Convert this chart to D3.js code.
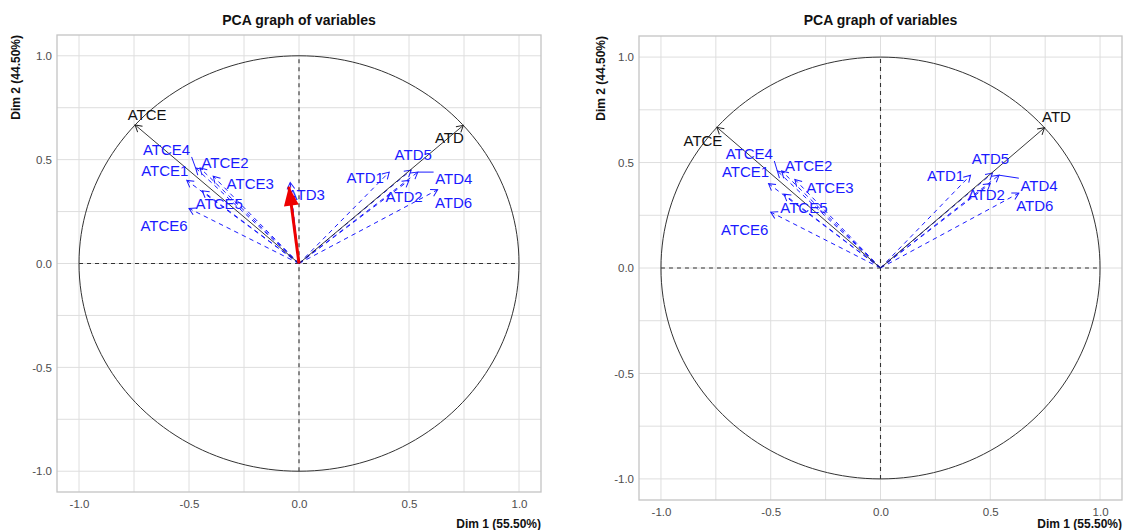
<!DOCTYPE html>
<html>
<head>
<meta charset="utf-8">
<script src="https://cdn.jsdelivr.net/npm/d3@7"></script>
<style>
  html, body { margin: 0; padding: 0; background: #ffffff; }
  svg { display: block; font-family: "Liberation Sans", Arial, sans-serif; }
</style>
</head>
<body>
<svg id="chart" width="1125" height="530"></svg>
<script>
// ---------------- data ----------------
const chartTitle = "PCA graph of variables";
const xTitle = "Dim 1 (55.50%)";
const yTitle = "Dim 2 (44.50%)";

const activeVars = ["ATCE", "ATD"];
const activeDim1 = [-0.745, 0.747];
const activeDim2 = [0.667, 0.665];

const supVars = ["ATCE1", "ATCE2", "ATCE3", "ATCE4", "ATCE5", "ATCE6",
                 "ATD1", "ATD2", "ATD3", "ATD4", "ATD5", "ATD6"];
const supDim1 = [-0.51, -0.45, -0.39, -0.47, -0.44, -0.50,
                  0.41, 0.50, -0.04, 0.54, 0.51, 0.63];
const supDim2 = [0.40, 0.46, 0.42, 0.46, 0.35, 0.265,
                 0.44, 0.40, 0.39, 0.44, 0.45, 0.355];

// highlight arrow (left panel only)
const highlightVar = "ATD3";
const highlightDim1 = [0, -0.046];
const highlightDim2 = [0, 0.37];

const tickValues = [-1, -0.5, 0, 0.5, 1];
const tickLabels = ["-1.0", "-0.5", "0.0", "0.5", "1.0"];
const gridValues = [-1, -0.75, -0.5, -0.25, 0, 0.25, 0.5, 0.75, 1];

// ---------------- layout ----------------
// label offsets (px) from arrow tip, per panel (text-repel placement)
const panels = [
  {
    box: { x0: 57, x1: 541, y0: 35, y1: 492 },
    showVars: supVars,
    highlight: true,
    yTitleX: 16,
    xTitleY: 528,
    labelOff: {
      ATCE: [12, -10], ATD: [-14, 12],
      ATCE1: [-22, -10], ATCE2: [25, -5], ATCE3: [37, 7], ATCE4: [-29, -18],
      ATCE5: [17, 13], ATCE6: [-25, 17],
      ATD1: [-24, 5], ATD2: [-5, 16], ATD3: [16, 12], ATD4: [36, 6],
      ATD5: [2, -15], ATD6: [16, 13]
    },
    segments: { ATCE4: true, ATD4: true }
  },
  {
    box: { x0: 639, x1: 1122, y0: 36, y1: 500 },
    showVars: supVars.filter(v => v !== "ATD3"),
    highlight: false,
    yTitleX: 601,
    xTitleY: 528,
    labelOff: {
      ATCE: [-14, 13], ATD: [12, -11],
      ATCE1: [-23, -12], ATCE2: [27, -5], ATCE3: [35, 8], ATCE4: [-28, -17],
      ATCE5: [20, 13], ATCE6: [-26, 17],
      ATD1: [-25, 0], ATD2: [-4, 11], ATD4: [40, 10],
      ATD5: [-2, -14], ATD6: [16, 12]
    },
    segments: { ATCE4: true, ATD4: true }
  }
];

const svg = d3.select("#chart");
const defs = svg.append("defs");

function addMarker(id, color) {
  defs.append("marker")
    .attr("id", id)
    .attr("markerUnits", "userSpaceOnUse")
    .attr("viewBox", "-10 -6 12 12")
    .attr("refX", 0).attr("refY", 0)
    .attr("markerWidth", 12).attr("markerHeight", 12)
    .attr("orient", "auto")
    .append("path")
    .attr("d", "M-6.5,-3.8 L0,0 L-6.5,3.8")
    .attr("fill", "none")
    .attr("stroke", color)
    .attr("stroke-width", 1);
}
addMarker("headBlack", "#222222");
addMarker("headBlue", "#1a1aff");

defs.append("marker")
  .attr("id", "headRed")
  .attr("markerUnits", "userSpaceOnUse")
  .attr("viewBox", "-20 -8 22 16")
  .attr("refX", 0).attr("refY", 0)
  .attr("markerWidth", 22).attr("markerHeight", 16)
  .attr("orient", "auto")
  .append("path")
  .attr("d", "M-19,-7.5 L0,0 L-19,7.5 Z")
  .attr("fill", "#ee0000");

const labelFont = 15;

panels.forEach(p => {
  const b = p.box;
  const x = d3.scaleLinear().domain([-1.1, 1.1]).range([b.x0, b.x1]);
  const y = d3.scaleLinear().domain([-1.1, 1.1]).range([b.y1, b.y0]);
  const g = svg.append("g");

  // grid
  g.selectAll(".gx").data(gridValues).join("line")
    .attr("x1", d => x(d)).attr("x2", d => x(d))
    .attr("y1", b.y0).attr("y2", b.y1)
    .attr("stroke", "#dedede").attr("stroke-width", 1);
  g.selectAll(".gy").data(gridValues).join("line")
    .attr("y1", d => y(d)).attr("y2", d => y(d))
    .attr("x1", b.x0).attr("x2", b.x1)
    .attr("stroke", "#dedede").attr("stroke-width", 1);

  // panel border
  g.append("rect")
    .attr("x", b.x0).attr("y", b.y0)
    .attr("width", b.x1 - b.x0).attr("height", b.y1 - b.y0)
    .attr("fill", "none").attr("stroke", "#c4c4c4").attr("stroke-width", 1.3);

  // axes tick labels
  const xAxis = d3.axisBottom(x).tickValues(tickValues)
    .tickFormat((d, i) => tickLabels[i]).tickSize(0).tickPadding(8);
  const xa = g.append("g").attr("transform", `translate(0,${b.y1})`).call(xAxis);
  xa.select(".domain").remove();
  xa.selectAll("text").attr("fill", "#4d4d4d").attr("font-size", 11.5)
    .attr("font-family", "Liberation Sans, Arial, sans-serif");

  const yAxis = d3.axisLeft(y).tickValues(tickValues)
    .tickFormat((d, i) => tickLabels[i]).tickSize(0).tickPadding(5);
  const ya = g.append("g").attr("transform", `translate(${b.x0},0)`).call(yAxis);
  ya.select(".domain").remove();
  ya.selectAll("text").attr("fill", "#4d4d4d").attr("font-size", 11.5)
    .attr("font-family", "Liberation Sans, Arial, sans-serif");

  // title
  g.append("text")
    .attr("x", (b.x0 + b.x1) / 2).attr("y", 25)
    .attr("text-anchor", "middle")
    .attr("font-size", 14).attr("font-weight", "bold").attr("fill", "#111")
    .text(chartTitle);

  // axis titles
  g.append("text")
    .attr("x", b.x1).attr("y", p.xTitleY)
    .attr("text-anchor", "end")
    .attr("font-size", 12).attr("font-weight", "bold").attr("fill", "#111")
    .text(xTitle);
  g.append("text")
    .attr("transform", `translate(${p.yTitleX},${b.y0}) rotate(-90)`)
    .attr("text-anchor", "end")
    .attr("dy", "0.35em")
    .attr("font-size", 12).attr("font-weight", "bold").attr("fill", "#111")
    .text(yTitle);

  // correlation circle
  const angles = d3.range(0, 361, 2).map(a => a * Math.PI / 180);
  g.append("path")
    .datum(angles)
    .attr("d", d3.line().x(a => x(Math.cos(a))).y(a => y(Math.sin(a))))
    .attr("fill", "none").attr("stroke", "#333").attr("stroke-width", 1);

  // zero lines
  g.append("line")
    .attr("x1", x(-1)).attr("x2", x(1)).attr("y1", y(0)).attr("y2", y(0))
    .attr("stroke", "#333").attr("stroke-width", 1.1).attr("stroke-dasharray", "4,4");
  g.append("line")
    .attr("x1", x(0)).attr("x2", x(0)).attr("y1", y(-1)).attr("y2", y(1))
    .attr("stroke", "#333").attr("stroke-width", 1.1).attr("stroke-dasharray", "4,4");

  // supplementary variables
  const sup = supVars.map((v, i) => ({ name: v, d1: supDim1[i], d2: supDim2[i] }))
    .filter(d => p.showVars.includes(d.name));

  g.selectAll(".sup").data(sup).join("line")
    .attr("x1", x(0)).attr("y1", y(0))
    .attr("x2", d => x(d.d1)).attr("y2", d => y(d.d2))
    .attr("stroke", "#1a1aff").attr("stroke-width", 1)
    .attr("stroke-dasharray", "4.5,4")
    .attr("marker-end", "url(#headBlue)");

  // active variables
  const act = activeVars.map((v, i) => ({ name: v, d1: activeDim1[i], d2: activeDim2[i] }));
  g.selectAll(".act").data(act).join("line")
    .attr("x1", x(0)).attr("y1", y(0))
    .attr("x2", d => x(d.d1)).attr("y2", d => y(d.d2))
    .attr("stroke", "#222").attr("stroke-width", 0.9)
    .attr("marker-end", "url(#headBlack)");

  // labels
  function labelPos(d) {
    const o = p.labelOff[d.name] || [0, 0];
    return [x(d.d1) + o[0], y(d.d2) + o[1]];
  }
  // repel segments
  sup.filter(d => p.segments[d.name]).forEach(d => {
    const [lx, ly] = labelPos(d);
    const w = d.name.length * 9.6, h = 12;
    const px = x(d.d1), py = y(d.d2);
    const cx = Math.max(lx - w / 2 - 1, Math.min(px, lx + w / 2 + 1));
    const cy = Math.max(ly - h / 2 - 1, Math.min(py, ly + h / 2 + 1));
    g.append("line")
      .attr("x1", px).attr("y1", py).attr("x2", cx).attr("y2", cy)
      .attr("stroke", "#1a1aff").attr("stroke-width", 1);
  });

  g.selectAll(".supLab").data(sup).join("text")
    .attr("x", d => labelPos(d)[0]).attr("y", d => labelPos(d)[1])
    .attr("dy", "0.36em")
    .attr("text-anchor", "middle")
    .attr("font-size", labelFont).attr("fill", "#1a1aff")
    .text(d => d.name);

  g.selectAll(".actLab").data(act).join("text")
    .attr("x", d => labelPos(d)[0]).attr("y", d => labelPos(d)[1])
    .attr("dy", "0.36em")
    .attr("text-anchor", "middle")
    .attr("font-size", labelFont).attr("fill", "#111")
    .text(d => d.name);

  // highlight red arrow
  if (p.highlight) {
    g.append("line")
      .attr("x1", x(highlightDim1[0])).attr("y1", y(highlightDim2[0]))
      .attr("x2", x(highlightDim1[1])).attr("y2", y(highlightDim2[1]))
      .attr("stroke", "#ee0000").attr("stroke-width", 3)
      .attr("marker-end", "url(#headRed)");
  }
});
</script>
</body>
</html>
